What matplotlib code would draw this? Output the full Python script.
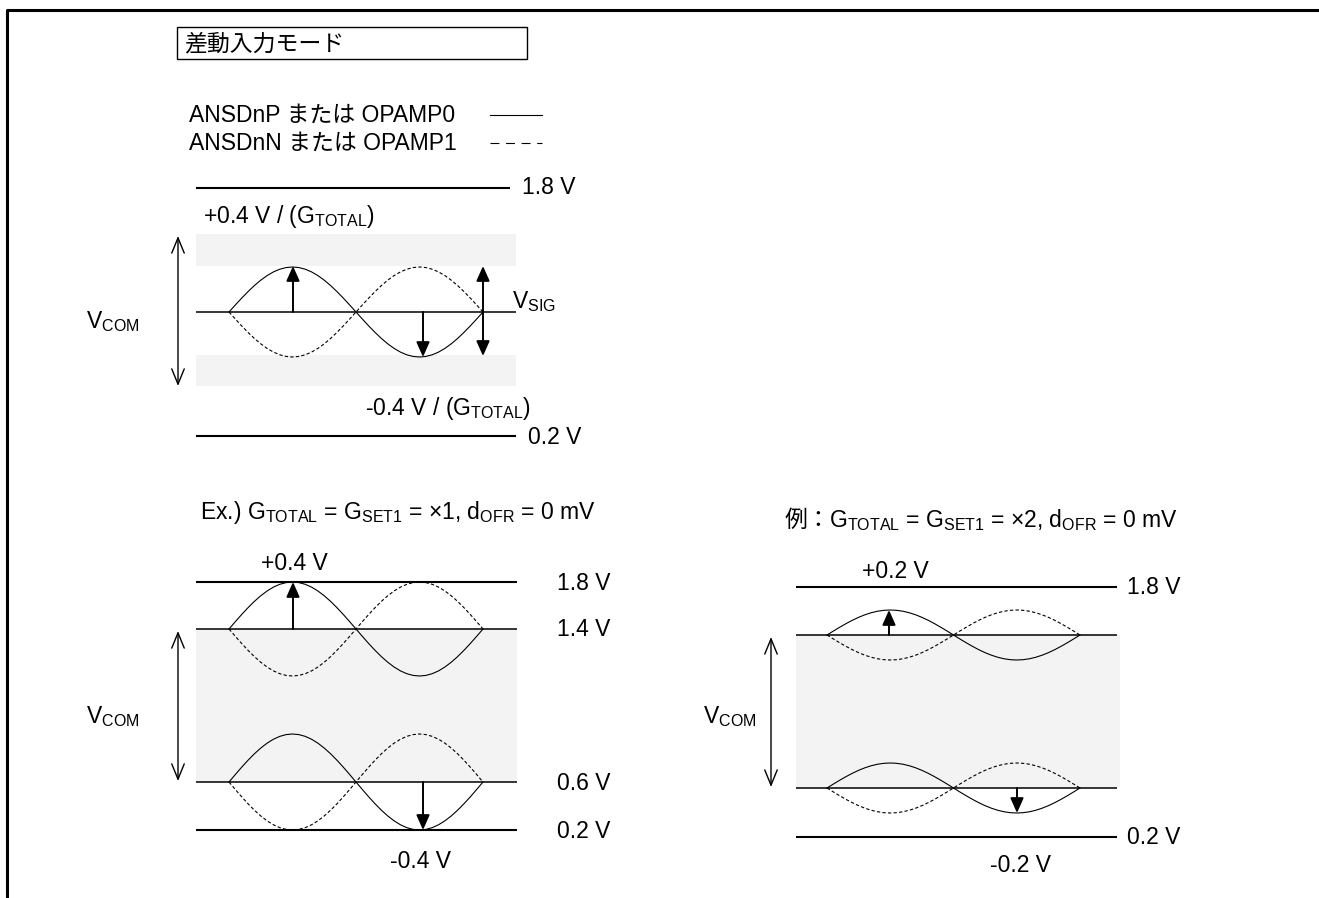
import numpy as np
import matplotlib
matplotlib.use("Agg")
import matplotlib.pyplot as plt
from matplotlib.patches import Rectangle

plt.rcParams['font.family'] = ['Liberation Sans', 'Noto Sans CJK JP']
plt.rcParams['mathtext.fontset'] = 'custom'
plt.rcParams['mathtext.rm'] = 'Liberation Sans'
plt.rcParams['mathtext.it'] = 'Liberation Sans'
plt.rcParams['mathtext.bf'] = 'Liberation Sans:bold'

# texts / values
title = '差動入力モード'
legend_labels = ['ANSDnP または OPAMP0', 'ANSDnN または OPAMP1']
legend_styles = ['-', (0, (8, 6))]

top_rails = ['1.8 V', '0.2 V']
top_swing = [r'+0.4 V / (G$_{\mathrm{TOTAL}}$)', r'-0.4 V / (G$_{\mathrm{TOTAL}}$)']

ex_prefix = ['', '例：']
ex_titles = [r'Ex.) G$_{\mathrm{TOTAL}}$ = G$_{\mathrm{SET1}}$ = ×1, d$_{\mathrm{OFR}}$ = 0 mV',
             r'G$_{\mathrm{TOTAL}}$ = G$_{\mathrm{SET1}}$ = ×2, d$_{\mathrm{OFR}}$ = 0 mV']
ex1_rails = [1.8, 1.4, 0.6, 0.2]
ex2_rails = [1.8, 0.2]
ex_swing = [0.4, 0.2]

vcom = r'V$_{\mathrm{COM}}$'
vsig = r'V$_{\mathrm{SIG}}$'

FS = 16.5
GRAY = '#f3f3f3'
DASH = (0, (3, 2))

fig = plt.figure(figsize=(13.19, 8.98), dpi=100)
ax = fig.add_axes([0, 0, 1, 1])
ax.set_xlim(0, 1319)
ax.set_ylim(898, 0)
ax.axis('off')


def sines(xa, xb, yc, amp):
    t = np.linspace(0, 2 * np.pi, 41)
    x = xa + (xb - xa) * t / (2 * np.pi)
    ax.plot(x, yc - amp * np.sin(t), color='k', lw=0.8)
    ax.plot(x, yc + amp * np.sin(t), color='k', lw=0.8, ls=DASH)


def arrow(x, y0, y1, style='-|>'):
    ax.annotate('', xy=(x, y1), xytext=(x, y0),
                arrowprops=dict(arrowstyle=style + ',head_length=0.9,head_width=0.4',
                                color='k', lw=1.4, shrinkA=0, shrinkB=0,
                                mutation_scale=10))


def open_arrow(x, y0, y1):
    ax.annotate('', xy=(x, y1), xytext=(x, y0),
                arrowprops=dict(arrowstyle='<->,head_length=1.1,head_width=0.45',
                                color='k', lw=1.0, shrinkA=0, shrinkB=0,
                                mutation_scale=10))


def hline(y, xa, xb, lw):
    ax.plot([xa, xb], [y, y], color='k', lw=lw, solid_capstyle='butt')


# frame
ax.plot([7, 7, 1319], [898, 9.5, 9.5], color='k', lw=2.2, solid_capstyle='butt')

# title box
ax.add_patch(Rectangle((177, 27), 350, 32, fill=False, lw=1.0, ec='k'))
ax.text(184, 44, title, fontsize=FS, va='center', ha='left')

# legend
for i, (lab, ls) in enumerate(zip(legend_labels, legend_styles)):
    y = 115 + 28 * i
    ax.text(189, y, lab, fontsize=FS, va='center', ha='left')
    ax.plot([490, 542], [y, y], color='k', lw=0.8, ls=ls)

# ---- top generic panel
ax.add_patch(Rectangle((196, 234), 320, 32, color=GRAY, lw=0))
ax.add_patch(Rectangle((196, 355), 320, 31, color=GRAY, lw=0))
hline(188, 196, 510, 1.5)
hline(436, 196, 516, 1.5)
hline(312, 196, 516, 1.1)
ax.text(522, 188, top_rails[0], fontsize=FS, va='center')
ax.text(528, 437, top_rails[1], fontsize=FS, va='center')
ax.text(203, 216, top_swing[0], fontsize=FS, va='center')
ax.text(365, 408, top_swing[1], fontsize=FS, va='center')
sines(229, 483, 312, 45)
arrow(293, 312, 266)
arrow(423, 312, 357)
arrow(483, 312, 266)
arrow(483, 312, 356)
open_arrow(178, 236, 386)
ax.text(86, 322, vcom, fontsize=FS, va='center')
ax.text(512, 302, vsig, fontsize=FS, va='center')

# ---- example 1 (x1)
ax.text(200, 512, ex_titles[0], fontsize=FS, va='center')
ex1_y = [582, 629, 782, 830]
ax.add_patch(Rectangle((196, ex1_y[1]), 321, ex1_y[2] - ex1_y[1], color=GRAY, lw=0))
for v, y in zip(ex1_rails, ex1_y):
    hline(y, 196, 517, 1.5 if v in (1.8, 0.2) else 1.1)
    ax.text(557, y + 1, f'{v:.1f} V', fontsize=FS, va='center')
sines(229, 483, ex1_y[1], ex1_y[1] - ex1_y[0])
sines(229, 483, ex1_y[2], ex1_y[3] - ex1_y[2])
arrow(293, ex1_y[1], ex1_y[0])
arrow(423, ex1_y[2], ex1_y[3])
ax.text(261, 564, f'+{ex_swing[0]:.1f} V', fontsize=FS, va='center')
ax.text(390, 862, f'-{ex_swing[0]:.1f} V', fontsize=FS, va='center')
open_arrow(178, 631, 781)
ax.text(86, 717, vcom, fontsize=FS, va='center')

# ---- example 2 (x2)
ax.text(785, 520, ex_prefix[1], fontsize=FS, va='center')
ax.text(829, 520, ex_titles[1], fontsize=FS, va='center')
ex2_y = [587, 837]
inner_y = [635, 788]
amp2 = 25
ax.add_patch(Rectangle((796, inner_y[0]), 324, inner_y[1] - inner_y[0], color=GRAY, lw=0))
for v, y in zip(ex2_rails, ex2_y):
    hline(y, 796, 1117, 1.5)
    ax.text(1127, y, f'{v:.1f} V', fontsize=FS, va='center')
for y in inner_y:
    hline(y, 796, 1117, 1.1)
    sines(827, 1080, y, amp2)
arrow(889, inner_y[0], inner_y[0] - amp2)
arrow(1017, inner_y[1], inner_y[1] + amp2)
ax.text(862, 571, f'+{ex_swing[1]:.1f} V', fontsize=FS, va='center')
ax.text(990, 866, f'-{ex_swing[1]:.1f} V', fontsize=FS, va='center')
open_arrow(771, 637, 787)
ax.text(703, 717, vcom, fontsize=FS, va='center')

fig.savefig('out.png', dpi=100)
